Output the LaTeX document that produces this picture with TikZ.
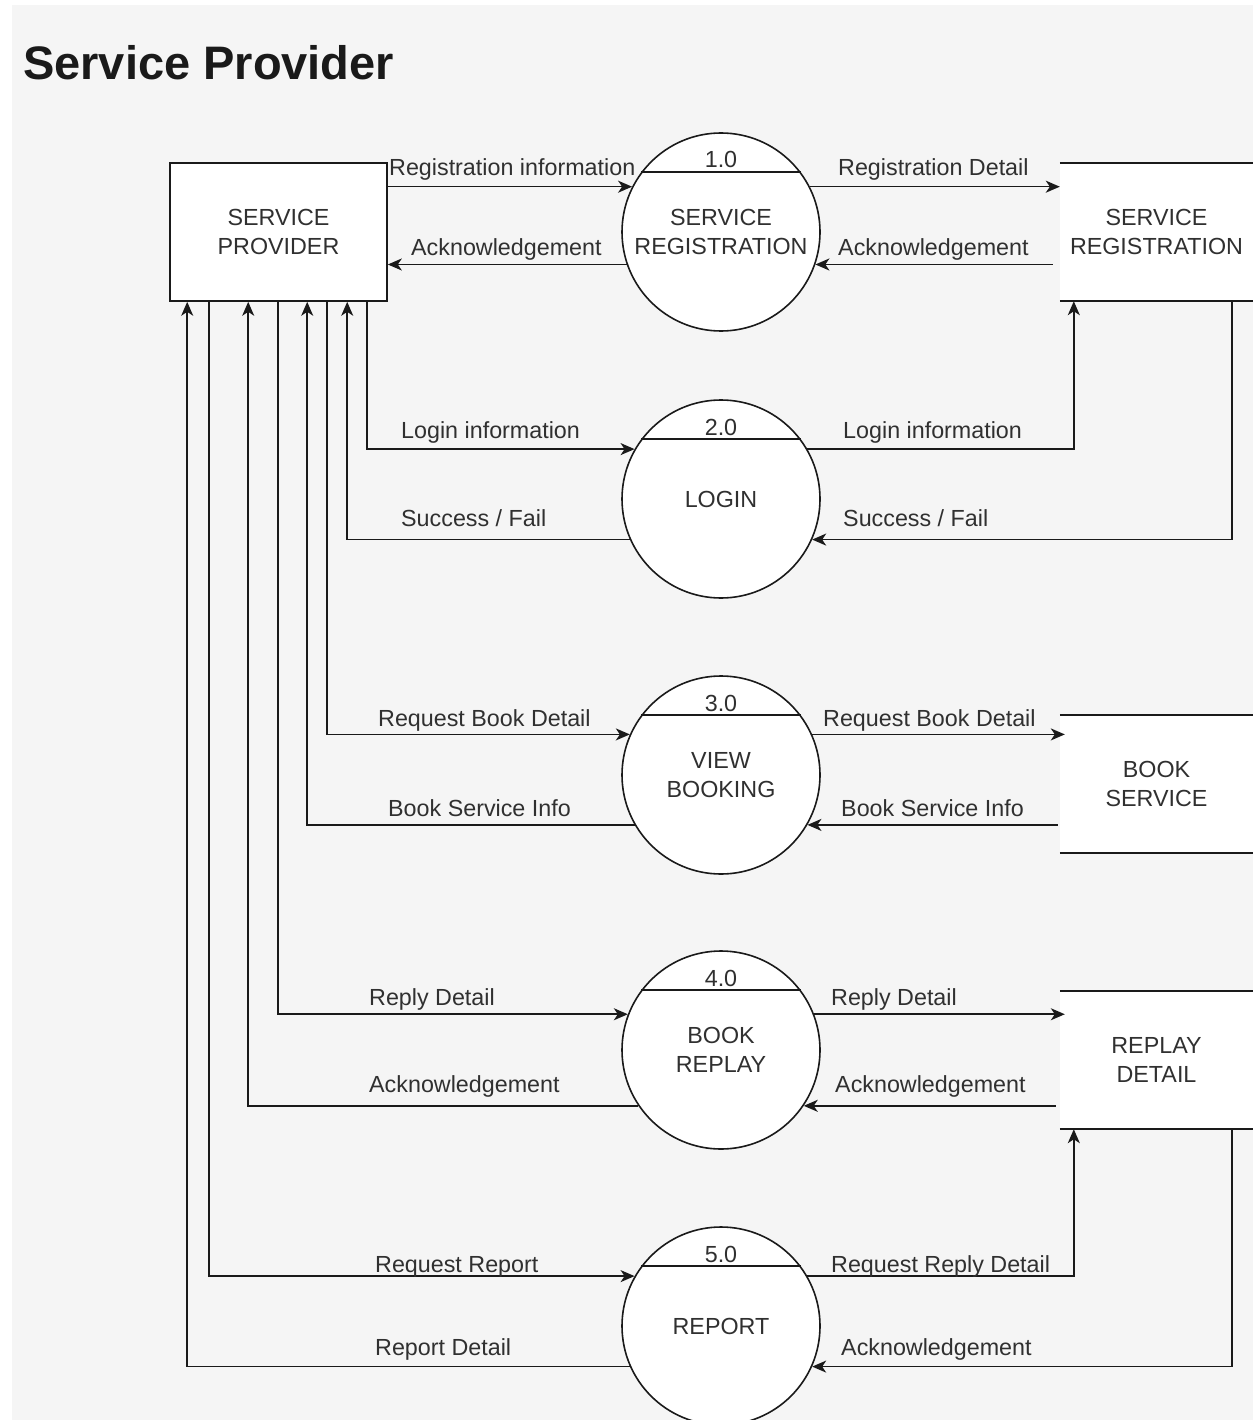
\documentclass[tikz,border=0pt]{standalone}
\usepackage{fontspec}
\setmainfont{Liberation Sans}
\usetikzlibrary{arrows.meta,calc}
\definecolor{bg}{HTML}{F5F5F5}
\definecolor{ink}{HTML}{1A1A1A}
\definecolor{txt}{HTML}{303030}
\begin{document}
\begin{tikzpicture}[x=1pt,y=-1pt,
  lbl/.style={font=\fontsize{23.3}{29}\selectfont,text=txt},
  edge/.style={draw=ink,line width=1.6pt},
  flow/.style={edge,-{Stealth[length=14pt,width=12pt,inset=4pt]}},
  entity/.style={lbl,draw=ink,line width=1.6pt,fill=white,minimum width=217pt,minimum height=138pt,inner sep=0pt,align=center},
  proc/.style={lbl,circle,draw=ink,line width=1.6pt,fill=white,minimum size=198pt,inner sep=0pt,align=center},
  store/.style={lbl,fill=white,minimum width=193pt,minimum height=138pt,inner sep=0pt,align=center},
  num/.style={lbl,anchor=base,inner sep=0pt},
  flowlabel/.style={lbl,anchor=base west,inner sep=0pt}]

% canvas
\useasboundingbox (0,0) rectangle (1253,1420);
\fill[white] (0,0) rectangle (1253,1420);
\fill[bg] (12,5) rectangle (1253,1420);

% heading
\node[anchor=base west,inner sep=0pt,text=ink,font=\fontsize{47}{56}\selectfont\bfseries] (title) at (23,80) {Service Provider};

% external entity
\node[entity] (sp) at (278.5,232) {SERVICE\\PROVIDER};

% processes
\node[proc] (c1) at (721,232)  {SERVICE\\REGISTRATION};
\node[proc] (c2) at (721,499)  {LOGIN};
\node[proc] (c3) at (721,775)  {VIEW\\BOOKING};
\node[proc] (c4) at (721,1050) {BOOK\\REPLAY};
\node[proc] (c5) at (721,1326) {REPORT};

\foreach \c/\n in {c1/1.0,c2/2.0,c3/3.0,c4/4.0,c5/5.0}{
  \draw[edge] (\c.143) -- (\c.37);
  \node[num] (\c num) at ($(\c.center)+(0,-64)$) {\n};
}

% data stores
\node[store] (st1) at (1156.5,232) {SERVICE\\REGISTRATION};
\node[store] (st2) at (1156.5,784) {BOOK\\SERVICE};
\node[store] (st3) at (1156.5,1060) {REPLAY\\DETAIL};
\foreach \s in {st1,st2,st3}{
  \draw[edge] (\s.north west) -- (\s.north east);
  \draw[edge] (\s.south west) -- (\s.south east);
}

% taps under the service provider box
\coordinate (t1) at ($(sp.south west)+(18,0)$);
\coordinate (t2) at ($(sp.south west)+(40,0)$);
\coordinate (t3) at ($(sp.south west)+(79,0)$);
\coordinate (t4) at ($(sp.south west)+(109,0)$);
\coordinate (t5) at ($(sp.south west)+(138,0)$);
\coordinate (t6) at ($(sp.south west)+(158,0)$);
\coordinate (t7) at ($(sp.south west)+(178,0)$);
\coordinate (t8) at ($(sp.south west)+(198,0)$);
% taps under the stores
\coordinate (s1a) at ($(st1.south west)+(14,0)$);
\coordinate (s1b) at ($(st1.south west)+(172,0)$);
\coordinate (s3a) at ($(st3.south west)+(14,0)$);
\coordinate (s3b) at ($(st3.south west)+(172,0)$);

% 1.0 service registration
\draw[flow] (c1.153 -| sp.east) -- (c1.153);
\draw[flow] (c1.199) -- (c1.199 -| sp.east);
\draw[flow] (c1.27) -- (c1.27 -| st1.west);
\draw[flow] ([xshift=-7pt]c1.341 -| st1.west) -- (c1.341);

% 2.0 login
\draw[flow] (t8) |- (c2.150);
\draw[flow] (c2.204) -| (t7);
\draw[flow] (c2.30) -| (s1a);
\draw[flow] (s1b) |- (c2.336);

% 3.0 view booking
\draw[flow] (t6) |- (c3.156);
\draw[flow] (c3.210) -| (t5);
\draw[flow] (c3.24) -- ([xshift=5pt]c3.24 -| st2.west);
\draw[flow] ([xshift=-2pt]c3.330 -| st2.west) -- (c3.330);

% 4.0 book replay
\draw[flow] (t4) |- (c4.159);
\draw[flow] (c4.214) -| (t3);
\draw[flow] (c4.21) -- ([xshift=5pt]c4.21 -| st3.west);
\draw[flow] ([xshift=-4pt]c4.326 -| st3.west) -- (c4.326);

% 5.0 report
\draw[flow] (t2) |- (c5.150);
\draw[flow] (c5.204) -| (t1);
\draw[flow] (c5.30) -| (s3a);
\draw[flow] (s3b) |- (c5.336);

% flow labels
\node[flowlabel] (l1)  at (389,176)  {Registration information};
\node[flowlabel] (l2)  at (411,256)  {Acknowledgement};
\node[flowlabel] (l3)  at (838,176)  {Registration Detail};
\node[flowlabel] (l4)  at (838,256)  {Acknowledgement};
\node[flowlabel] (l5)  at (401,438)  {Login information};
\node[flowlabel] (l6)  at (401,526)  {Success / Fail};
\node[flowlabel] (l7)  at (843,438)  {Login information};
\node[flowlabel] (l8)  at (843,526)  {Success / Fail};
\node[flowlabel] (l9)  at (378,726)  {Request Book Detail};
\node[flowlabel] (l10) at (388,816)  {Book Service Info};
\node[flowlabel] (l11) at (823,726)  {Request Book Detail};
\node[flowlabel] (l12) at (841,816)  {Book Service Info};
\node[flowlabel] (l13) at (369,1005) {Reply Detail};
\node[flowlabel] (l14) at (369,1092) {Acknowledgement};
\node[flowlabel] (l15) at (831,1005) {Reply Detail};
\node[flowlabel] (l16) at (835,1092) {Acknowledgement};
\node[flowlabel] (l17) at (375,1272) {Request Report};
\node[flowlabel] (l18) at (375,1355) {Report Detail};
\node[flowlabel] (l19) at (831,1272) {Request Reply Detail};
\node[flowlabel] (l20) at (841,1355) {Acknowledgement};
\end{tikzpicture}
\end{document}
